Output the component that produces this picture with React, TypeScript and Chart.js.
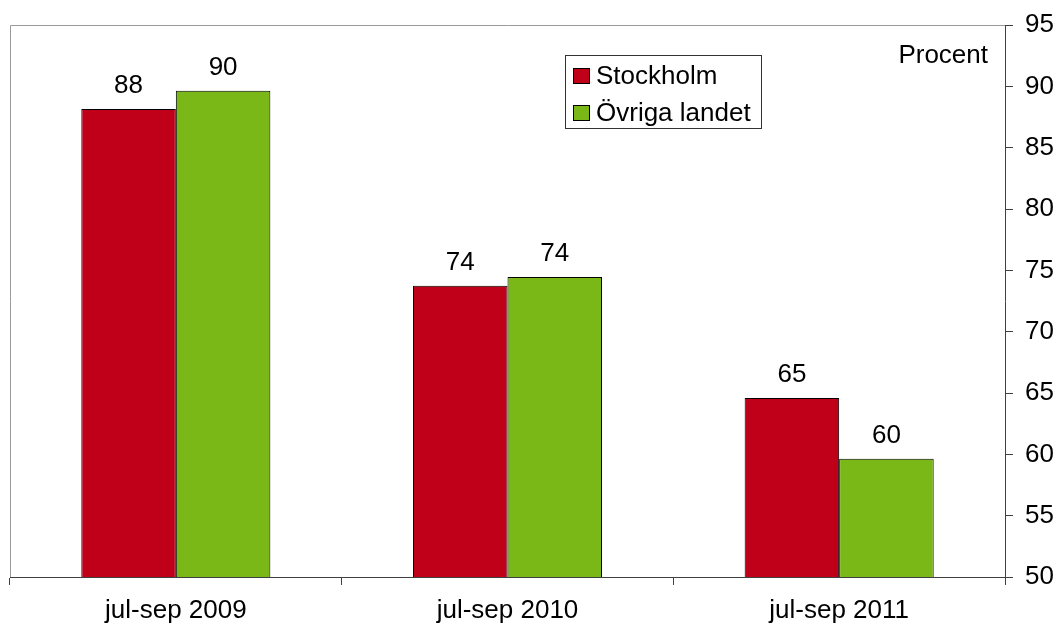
import React, { useEffect, useRef } from "react";
import { Chart, registerables } from "chart.js";

Chart.register(...registerables);

const categories = ["jul-sep 2009", "jul-sep 2010", "jul-sep 2011"];
const stockholm = [88.15, 73.75, 64.6];
const ovriga = [89.65, 74.45, 59.65];
const stockholmLabels = ["88", "74", "65"];
const ovrigaLabels = ["90", "74", "60"];
const seriesNames = ["Stockholm", "Övriga landet"];
const seriesColors = ["#C00018", "#7AB817"];
const yMin = 50;
const yMax = 95;
const yStep = 5;
const unitLabel = "Procent";

const FONT = "Arial, 'Liberation Sans', sans-serif";
const FS = 26;

const extrasPlugin = {
  id: "extras",
  afterDatasetsDraw(chart: any) {
    const ctx = chart.ctx;
    const area = chart.chartArea;
    ctx.save();
    // top and left frame lines
    ctx.strokeStyle = "#9a9a9a";
    ctx.lineWidth = 1;
    ctx.beginPath();
    ctx.moveTo(area.left + 0.5, area.bottom);
    ctx.lineTo(area.left + 0.5, area.top + 0.5);
    ctx.lineTo(area.right, area.top + 0.5);
    ctx.stroke();

    // data labels
    const labelSets = [stockholmLabels, ovrigaLabels];
    ctx.fillStyle = "#000";
    ctx.font = `${FS}px ${FONT}`;
    ctx.textAlign = "center";
    ctx.textBaseline = "alphabetic";
    chart.data.datasets.forEach((ds: any, di: number) => {
      const meta = chart.getDatasetMeta(di);
      meta.data.forEach((bar: any, i: number) => {
        ctx.fillText(labelSets[di][i], bar.x, bar.y - 16);
      });
    });

    // unit label
    ctx.textAlign = "right";
    ctx.fillText(unitLabel, area.right - 17, 63);

    // legend
    const lx = 565.5, ly = 55.5, lw = 196, lh = 73;
    ctx.fillStyle = "#fff";
    ctx.fillRect(lx, ly, lw, lh);
    ctx.strokeStyle = "#333";
    ctx.strokeRect(lx, ly, lw, lh);
    ctx.textAlign = "left";
    ctx.textBaseline = "middle";
    seriesNames.forEach((name, i) => {
      const cy = 76 + i * 37;
      ctx.fillStyle = seriesColors[i];
      ctx.fillRect(573.5, cy - 7.5, 16, 15);
      ctx.strokeStyle = "#000";
      ctx.strokeRect(573.5, cy - 7.5, 16, 15);
      ctx.fillStyle = "#000";
      ctx.fillText(name, 596, cy + 1);
    });
    ctx.restore();
  },
};

export default function App() {
  const ref = useRef<HTMLCanvasElement>(null);
  useEffect(() => {
    document.body.style.margin = "0";
    const chart = new Chart(ref.current!, {
      type: "bar",
      data: {
        labels: categories,
        datasets: [
          {
            label: seriesNames[0],
            data: stockholm,
            backgroundColor: seriesColors[0],
            borderColor: "#000",
            borderWidth: 1,
            borderSkipped: false,
          },
          {
            label: seriesNames[1],
            data: ovriga,
            backgroundColor: seriesColors[1],
            borderColor: "#000",
            borderWidth: 1,
            borderSkipped: false,
          },
        ],
      },
      options: {
        animation: false,
        responsive: false,
        maintainAspectRatio: false,
        layout: { padding: { top: 25, left: 10, right: 0, bottom: 0 } },
        datasets: { bar: { categoryPercentage: 0.57, barPercentage: 1 } },
        plugins: {
          legend: { display: false },
          tooltip: { enabled: false },
        },
        scales: {
          x: {
            grid: {
              offset: true,
              drawOnChartArea: false,
              drawTicks: true,
              tickLength: 8,
              color: "#404040",
            },
            border: { color: "#404040", width: 1 },
            ticks: {
              color: "#000",
              font: { family: FONT, size: FS },
              padding: 10,
              maxRotation: 0,
            },
            afterFit(scale: any) {
              scale.height = 50;
              scale.paddingLeft = 0;
              scale.paddingRight = 0;
            },
          },
          y: {
            position: "right",
            min: yMin,
            max: yMax,
            ticks: {
              stepSize: yStep,
              color: "#000",
              font: { family: FONT, size: FS },
              padding: 12,
            },
            grid: {
              drawOnChartArea: false,
              drawTicks: true,
              tickLength: 8,
              color: "#404040",
            },
            border: { color: "#404040", width: 1 },
            afterFit(scale: any) {
              scale.width = 52;
              scale.paddingTop = 0;
              scale.paddingBottom = 0;
            },
          },
        },
      },
      plugins: [extrasPlugin],
    });
    return () => chart.destroy();
  }, []);
  return (
    <div style={{ position: "relative", width: 1057, height: 627 }}>
      <canvas ref={ref} width={1057} height={627} style={{ display: "block" }} />
    </div>
  );
}
